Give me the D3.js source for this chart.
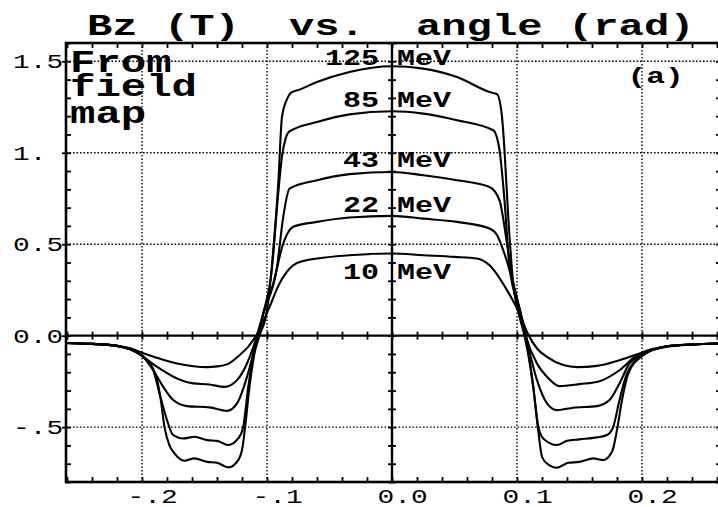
<!DOCTYPE html>
<html>
<head>
<meta charset="utf-8">
<script src="https://cdn.jsdelivr.net/npm/d3@7"></script>
<style>
html,body{margin:0;padding:0;background:#fff;}
svg{display:block;}
</style>
</head>
<body>
<svg id="chart" width="718" height="507"></svg>
<script>
// ---------------- data ----------------
const energies = ["125", "85", "43", "22", "10"];

const angle10 = [-0.261,-0.24,-0.22,-0.21,-0.2,-0.186,-0.172,-0.159,-0.148,-0.14,-0.132,-0.122,-0.114,-0.107,-0.098,-0.09,-0.084,-0.079,-0.07,-0.06,-0.034,0,0.025,0.05,0.068,0.078,0.092,0.102,0.108,0.116,0.124,0.137,0.148,0.164,0.182,0.2,0.22,0.24,0.262];
const bz10 = [-0.040,-0.045,-0.056,-0.068,-0.093,-0.125,-0.152,-0.167,-0.172,-0.168,-0.157,-0.107,-0.052,0.02,0.157,0.285,0.35,0.385,0.41,0.422,0.44,0.449,0.44,0.431,0.422,0.385,0.249,0.121,0.02,-0.07,-0.116,-0.161,-0.172,-0.165,-0.134,-0.094,-0.061,-0.048,-0.043];

const angle22 = [-0.261,-0.24,-0.22,-0.21,-0.2,-0.186,-0.172,-0.159,-0.146,-0.134,-0.124,-0.116,-0.11,-0.103,-0.095,-0.087,-0.079,-0.06,-0.034,0,0.025,0.052,0.078,0.084,0.089,0.097,0.103,0.107,0.116,0.124,0.134,0.15,0.166,0.182,0.196,0.22,0.24,0.262];
const bz22 = [-0.040,-0.045,-0.056,-0.072,-0.112,-0.179,-0.234,-0.261,-0.267,-0.28,-0.243,-0.152,-0.043,0.12,0.285,0.504,0.595,0.622,0.646,0.655,0.64,0.622,0.586,0.55,0.467,0.285,0.12,0.0,-0.152,-0.225,-0.276,-0.265,-0.249,-0.189,-0.107,-0.058,-0.048,-0.043];

const angle43 = [-0.261,-0.24,-0.22,-0.21,-0.2,-0.191,-0.183,-0.175,-0.164,-0.146,-0.132,-0.124,-0.116,-0.111,-0.103,-0.092,-0.087,-0.082,-0.06,-0.034,0,0.025,0.052,0.078,0.086,0.092,0.097,0.103,0.107,0.116,0.124,0.132,0.145,0.164,0.174,0.182,0.19,0.2,0.22,0.24,0.262];
const bz43 = [-0.040,-0.045,-0.056,-0.073,-0.11,-0.189,-0.28,-0.352,-0.385,-0.392,-0.411,-0.37,-0.225,-0.097,0.12,0.376,0.649,0.804,0.85,0.883,0.895,0.877,0.85,0.813,0.74,0.504,0.285,0.12,0.0,-0.243,-0.37,-0.407,-0.394,-0.385,-0.352,-0.261,-0.152,-0.105,-0.058,-0.048,-0.043];

const angle85 = [-0.261,-0.24,-0.22,-0.21,-0.2,-0.191,-0.186,-0.18,-0.175,-0.167,-0.158,-0.148,-0.14,-0.131,-0.123,-0.119,-0.115,-0.111,-0.103,-0.096,-0.092,-0.088,-0.085,-0.082,-0.06,-0.034,0,0.025,0.052,0.081,0.086,0.09,0.094,0.103,0.107,0.113,0.117,0.121,0.132,0.14,0.15,0.164,0.172,0.177,0.182,0.188,0.2,0.22,0.24,0.262];
const bz85 = [-0.040,-0.045,-0.056,-0.073,-0.11,-0.189,-0.316,-0.462,-0.544,-0.562,-0.553,-0.571,-0.575,-0.598,-0.562,-0.498,-0.28,-0.11,0.12,0.37,0.7,0.98,1.08,1.117,1.168,1.21,1.227,1.214,1.178,1.123,1.014,0.74,0.376,0.12,0.0,-0.28,-0.498,-0.562,-0.598,-0.575,-0.567,-0.556,-0.543,-0.498,-0.352,-0.207,-0.11,-0.058,-0.048,-0.043];

const angle125 = [-0.261,-0.24,-0.22,-0.21,-0.2,-0.192,-0.188,-0.185,-0.182,-0.178,-0.174,-0.166,-0.158,-0.148,-0.14,-0.131,-0.123,-0.1195,-0.1175,-0.114,-0.11,-0.106,-0.1,-0.095,-0.091,-0.088,-0.0835,-0.081,-0.074,-0.06,-0.034,0,0.025,0.052,0.078,0.084,0.088,0.09,0.093,0.097,0.102,0.106,0.113,0.117,0.12,0.124,0.132,0.141,0.15,0.161,0.169,0.176,0.18,0.184,0.189,0.2,0.22,0.24,0.262];
const bz125 = [-0.040,-0.045,-0.056,-0.073,-0.107,-0.17,-0.24,-0.35,-0.5,-0.6,-0.644,-0.684,-0.671,-0.69,-0.695,-0.72,-0.68,-0.607,-0.498,-0.28,-0.097,0.0,0.139,0.467,0.83,1.196,1.3,1.327,1.345,1.387,1.442,1.473,1.46,1.414,1.332,1.32,1.196,1.014,0.649,0.285,0.103,0.0,-0.28,-0.52,-0.662,-0.699,-0.722,-0.695,-0.69,-0.671,-0.68,-0.635,-0.516,-0.352,-0.207,-0.112,-0.058,-0.048,-0.043];

const xTickValues = [-0.2, -0.1, 0.0, 0.1, 0.2];
const xTickLabels = ["-.2", "-.1", "0.0", "0.1", "0.2"];
const yTickValues = [1.5, 1.0, 0.5, 0.0, -0.5];
const yTickLabels = ["1.5", "1.", "0.5", "0.0", "-.5"];
const titleWords = ["Bz", "(T)", "vs.", "angle", "(rad)"];
const noteLines = ["From", "field", "map"];
const panelTag = "(a)";

// ---------------- layout ----------------
const svg = d3.select("#chart");
const L = 66, R = 720, T = 43, B = 482;
const x = d3.scaleLinear().domain([-0.2608, 0.2624]).range([L, R]);
const y = d3.scaleLinear().domain([-0.8, 1.6]).range([B, T]);

const FONT = '"Liberation Mono", "Courier New", monospace';
function capRatio(weight) {
  const ctx = document.createElement("canvas").getContext("2d");
  ctx.font = weight + ' 100px ' + FONT;
  const m = ctx.measureText("H");
  const r = m.actualBoundingBoxAscent / 100;
  return (r > 0.3 && r < 1) ? r : 0.6;
}
const CAPB = capRatio("bold");
const CAPN = capRatio("normal");
function label(str, x0, base, cap, cw, weight) {
  weight = weight || "bold";
  const ratio = weight === "bold" ? CAPB : CAPN;
  return svg.append("text")
    .attr("x", x0).attr("y", base)
    .attr("font-family", FONT).attr("font-weight", weight)
    .attr("font-size", (cap / ratio).toFixed(2))
    .attr("textLength", str.length * cw)
    .attr("lengthAdjust", "spacingAndGlyphs")
    .attr("fill", "#000")
    .text(str);
}

// ---------------- grid ----------------
const gridX = xTickValues.filter(v => v !== 0);
const gridY = yTickValues.filter(v => v !== 0);
const grid = svg.append("g").attr("stroke", "#000").attr("stroke-width", 1.4)
  .attr("stroke-dasharray", "1.6,1.9").attr("fill", "none");
gridX.forEach(v => grid.append("line").attr("x1", x(v)).attr("x2", x(v)).attr("y1", T).attr("y2", B));
gridY.forEach(v => grid.append("line").attr("x1", L).attr("x2", R).attr("y1", y(v)).attr("y2", y(v)));

// ---------------- ticks via d3 axes ----------------
const xMinor = d3.range(-13, 14).map(i => +(i * 0.02).toFixed(2));
const yMinor = d3.range(-8, 17).map(i => +(i * 0.1).toFixed(1));
function styleAxis(g) {
  g.select(".domain").remove();
  g.selectAll(".tick line").attr("stroke", "#000").attr("stroke-width", 1.8);
  g.selectAll(".tick text").remove();
}
svg.append("g").attr("transform", `translate(0,${B})`).call(d3.axisBottom(x).tickValues(xMinor).tickSize(-5).tickFormat("")).call(styleAxis);
svg.append("g").attr("transform", `translate(0,${T})`).call(d3.axisTop(x).tickValues(xMinor).tickSize(-5).tickFormat("")).call(styleAxis);
svg.append("g").attr("transform", `translate(${L},0)`).call(d3.axisLeft(y).tickValues(yMinor).tickSize(-5).tickFormat("")).call(styleAxis);
svg.append("g").attr("transform", `translate(${L},0)`).call(d3.axisLeft(y).tickValues(yTickValues).tickSize(4).tickFormat("")).call(styleAxis);
svg.append("g").attr("transform", `translate(${R},0)`).call(d3.axisRight(y).tickValues(yMinor).tickSize(-4).tickFormat("")).call(styleAxis);
// zero axes with crossing ticks
svg.append("g").attr("transform", `translate(0,${y(0)})`).call(d3.axisBottom(x).tickValues(xMinor).tickSize(4).tickFormat("")).call(styleAxis);
svg.append("g").attr("transform", `translate(0,${y(0)})`).call(d3.axisTop(x).tickValues(xMinor).tickSize(4).tickFormat("")).call(styleAxis);
svg.append("g").attr("transform", `translate(${x(0)},0)`).call(d3.axisLeft(y).tickValues(yMinor).tickSize(4).tickFormat("")).call(styleAxis);
svg.append("g").attr("transform", `translate(${x(0)},0)`).call(d3.axisRight(y).tickValues(yMinor).tickSize(4).tickFormat("")).call(styleAxis);

svg.append("line").attr("x1", L).attr("x2", R).attr("y1", y(0)).attr("y2", y(0)).attr("stroke", "#000").attr("stroke-width", 2.4);
svg.append("line").attr("x1", x(0)).attr("x2", x(0)).attr("y1", T).attr("y2", B).attr("stroke", "#000").attr("stroke-width", 2.4);

// frame
svg.append("rect").attr("x", L).attr("y", T).attr("width", R - L).attr("height", B - T)
  .attr("fill", "none").attr("stroke", "#000").attr("stroke-width", 2.6);

// ---------------- curves ----------------
const seriesList = [
  {name: "10", a: angle10, b: bz10},
  {name: "22", a: angle22, b: bz22},
  {name: "43", a: angle43, b: bz43},
  {name: "85", a: angle85, b: bz85},
  {name: "125", a: angle125, b: bz125}
];
const line = d3.line().x(d => x(d[0])).y(d => y(d[1])).curve(d3.curveMonotoneX);
svg.append("g").selectAll("path").data(seriesList).join("path")
  .attr("d", s => line(d3.zip(s.a, s.b)))
  .attr("fill", "none").attr("stroke", "#000").attr("stroke-width", 2.1)
  .attr("stroke-linejoin", "round");

// ---------------- texts ----------------
// title
const titleStarts = [87, 164, 289, 416, 568];
titleWords.forEach((w, i) => label(w, titleStarts[i], 35, 20, 25.3));
// note (one text block, three lines)
const noteBase = [71.5, 96, 123];
const note = svg.append("text")
  .attr("font-family", FONT).attr("font-weight", "bold")
  .attr("font-size", (20.5 / CAPB).toFixed(2)).attr("fill", "#000");
noteLines.forEach((w, i) => note.append("tspan")
  .attr("x", 70).attr("y", noteBase[i])
  .attr("textLength", w.length * 25.4).attr("lengthAdjust", "spacingAndGlyphs")
  .text(w));
// energy labels
const energyBase = [65, 106.5, 166.5, 211.5, 279];
energies.forEach((e, i) => {
  const cw = 18;
  label(e, 379 - e.length * cw, energyBase[i], 15, cw);
  label("MeV", 397, energyBase[i], 15, cw);
});
// panel tag
label(panelTag, 627.5, 83, 15, 18.75);
// y tick labels
yTickLabels.forEach((t, i) => label(t, 13, y(yTickValues[i]) + 7, 14, 16.7, "normal"));
// x tick labels
xTickLabels.forEach((t, i) => label(t, x(xTickValues[i]) - 14.5, 502.5, 14, 16.7, "normal"));
</script>
</body>
</html>
